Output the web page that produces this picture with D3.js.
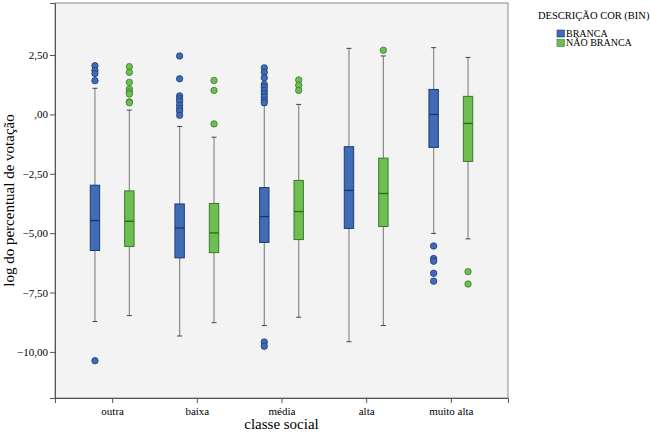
<!DOCTYPE html>
<html>
<head>
<meta charset="utf-8">
<script src="https://cdn.jsdelivr.net/npm/d3@7"></script>
<style>
  html, body { margin: 0; padding: 0; background: #ffffff; }
  svg { display: block; }
  text { font-family: "Liberation Serif", "DejaVu Serif", serif; fill: #000; }
</style>
</head>
<body>
<svg id="chart" width="650" height="440"></svg>
<script>
// ---- data ----
const categories = ["outra", "baixa", "média", "alta", "muito alta"];
const seriesNames = ["BRANCA", "NÃO BRANCA"];
const yTickValues = [2.5, 0, -2.5, -5, -7.5, -10];

// BRANCA
const brancaWhiskerLow  = [-8.72, -9.33, -8.89, -9.57, -5.01];
const brancaQ1          = [-5.73, -6.04, -5.39, -4.80, -1.39];
const brancaMedian      = [-4.47, -4.78, -4.30, -3.20,  0.00];
const brancaQ3          = [-2.98, -3.77, -3.08, -1.36,  1.05];
const brancaWhiskerHigh = [ 1.10, -0.51,  0.39,  2.78,  2.81];
const brancaOutliers = [
  [2.05, 1.85, 1.72, 1.42, -10.37],
  [2.46, 1.50, 0.78, 0.66, 0.55, 0.39, 0.25, 0.14, -0.04],
  [1.96, 1.77, 1.54, 1.26, 1.15, 1.01, 0.88, 0.74, 0.60, 0.49, -9.58, -9.76],
  [],
  [-5.54, -6.07, -6.18, -6.69, -7.02]
];

// NÃO BRANCA
const naoBrancaWhiskerLow  = [-8.47, -8.77, -8.54, -8.89, -5.24];
const naoBrancaQ1          = [-5.56, -5.82, -5.27, -4.72, -1.98];
const naoBrancaMedian      = [-4.50, -4.99, -4.09, -3.33, -0.38];
const naoBrancaQ3          = [-3.22, -3.75, -2.78, -1.84,  0.76];
const naoBrancaWhiskerHigh = [ 0.18, -0.96,  0.42,  2.46,  2.40];
const naoBrancaOutliers = [
  [2.01, 1.77, 1.35, 1.07, 0.95, 0.86, 0.53, 0.49],
  [1.43, 1.01, -0.40],
  [1.45, 1.23, 1.01],
  [2.70],
  [-6.62, -7.14]
];

// ---- build table ----
const seriesStats = [
  {lo: brancaWhiskerLow, q1: brancaQ1, med: brancaMedian, q3: brancaQ3, hi: brancaWhiskerHigh, out: brancaOutliers},
  {lo: naoBrancaWhiskerLow, q1: naoBrancaQ1, med: naoBrancaMedian, q3: naoBrancaQ3, hi: naoBrancaWhiskerHigh, out: naoBrancaOutliers}
];
const boxes = [];
seriesNames.forEach((s, si) => {
  categories.forEach((c, ci) => {
    const st = seriesStats[si];
    boxes.push({series: s, cat: c, lo: st.lo[ci], q1: st.q1[ci], med: st.med[ci], q3: st.q3[ci], hi: st.hi[ci], out: st.out[ci]});
  });
});

const fills   = {"BRANCA": "#3f6cb4", "NÃO BRANCA": "#6cbf50"};
const strokes = {"BRANCA": "#1e3b78", "NÃO BRANCA": "#3c7a2e"};
const medCol  = {"BRANCA": "#1b356b", "NÃO BRANCA": "#2e6424"};

// ---- layout ----
const plot = {left: 55, top: 3, right: 508, bottom: 398};
const svg = d3.select("#chart");

const x = d3.scalePoint().domain(categories).range([plot.left, plot.right]).padding(0.675);
const xOff = d3.scalePoint().domain(seriesNames).range([-17.2, 17.2]);
const y = d3.scaleLinear().domain([-11.94, 4.69]).range([plot.bottom, plot.top]);
const boxW = 9.4;
const capW = 5;

// plot background
svg.append("rect")
  .attr("x", plot.left).attr("y", plot.top)
  .attr("width", plot.right - plot.left).attr("height", plot.bottom - plot.top)
  .attr("fill", "#f3f3f3").attr("stroke", "#8c8c8c").attr("stroke-width", 1);

const fmt = v => {
  let s = d3.format(".2f")(v).replace(".", ",");
  if (s === "0,00") s = ",00";
  return s;
};

// y axis
const yAxis = svg.append("g")
  .attr("transform", `translate(${plot.left},0)`)
  .call(d3.axisLeft(y).tickValues(yTickValues).tickFormat(fmt).tickSize(5).tickPadding(2));
yAxis.attr("font-family", "Liberation Serif");
yAxis.select(".domain").attr("stroke", "#555");
yAxis.selectAll(".tick line").attr("stroke", "#555");
yAxis.selectAll(".tick text").attr("font-size", 11).attr("fill", "#000");

// x axis
const xAxis = svg.append("g")
  .attr("transform", `translate(0,${plot.bottom})`)
  .call(d3.axisBottom(x).tickSize(5).tickPadding(4));
xAxis.attr("font-family", "Liberation Serif");
xAxis.select(".domain").attr("stroke", "#555");
xAxis.selectAll(".tick line").attr("stroke", "#555");
xAxis.selectAll(".tick text").attr("font-size", 11).attr("fill", "#000");

// boxes
const g = svg.append("g");
const bg = g.selectAll("g.box").data(boxes).join("g")
  .attr("transform", d => `translate(${x(d.cat) + xOff(d.series)},0)`);

// whisker line
bg.append("line")
  .attr("x1", 0).attr("x2", 0)
  .attr("y1", d => y(d.hi)).attr("y2", d => y(d.lo))
  .attr("stroke", "#8a8a8a").attr("stroke-width", 1.2);
// caps
bg.append("line")
  .attr("x1", -capW / 2).attr("x2", capW / 2)
  .attr("y1", d => y(d.hi)).attr("y2", d => y(d.hi))
  .attr("stroke", "#444").attr("stroke-width", 1);
bg.append("line")
  .attr("x1", -capW / 2).attr("x2", capW / 2)
  .attr("y1", d => y(d.lo)).attr("y2", d => y(d.lo))
  .attr("stroke", "#444").attr("stroke-width", 1);
// box
bg.append("rect")
  .attr("x", -boxW / 2).attr("width", boxW)
  .attr("y", d => y(d.q3)).attr("height", d => y(d.q1) - y(d.q3))
  .attr("fill", d => fills[d.series]).attr("stroke", d => strokes[d.series]).attr("stroke-width", 1);
// median
bg.append("line")
  .attr("x1", -boxW / 2).attr("x2", boxW / 2)
  .attr("y1", d => y(d.med)).attr("y2", d => y(d.med))
  .attr("stroke", d => medCol[d.series]).attr("stroke-width", 1.3);
// outliers
bg.each(function(d) {
  d3.select(this).selectAll("circle").data(d.out).join("circle")
    .attr("cx", 0).attr("cy", v => y(v)).attr("r", 3.2)
    .attr("fill", fills[d.series]).attr("stroke", strokes[d.series]).attr("stroke-width", 0.8);
});

// axis titles
svg.append("text")
  .attr("x", (plot.left + plot.right) / 2).attr("y", 429)
  .attr("text-anchor", "middle").attr("font-size", 15)
  .text("classe social");
svg.append("text")
  .attr("transform", `translate(14,${(plot.top + plot.bottom) / 2}) rotate(-90)`)
  .attr("text-anchor", "middle").attr("font-size", 15)
  .text("log do percentual de votação");

// legend
const lg = svg.append("g");
lg.append("text").attr("x", 538).attr("y", 19).attr("font-size", 10.5).text("DESCRIÇÃO COR (BIN)");
seriesNames.forEach((s, i) => {
  lg.append("rect").attr("x", 557).attr("y", 30 + i * 9.5).attr("width", 7.5).attr("height", 7)
    .attr("fill", fills[s]).attr("stroke", strokes[s]).attr("stroke-width", 0.6);
  lg.append("text").attr("x", 566).attr("y", 36.8 + i * 9.5).attr("font-size", 10).text(s);
});
</script>
</body>
</html>
